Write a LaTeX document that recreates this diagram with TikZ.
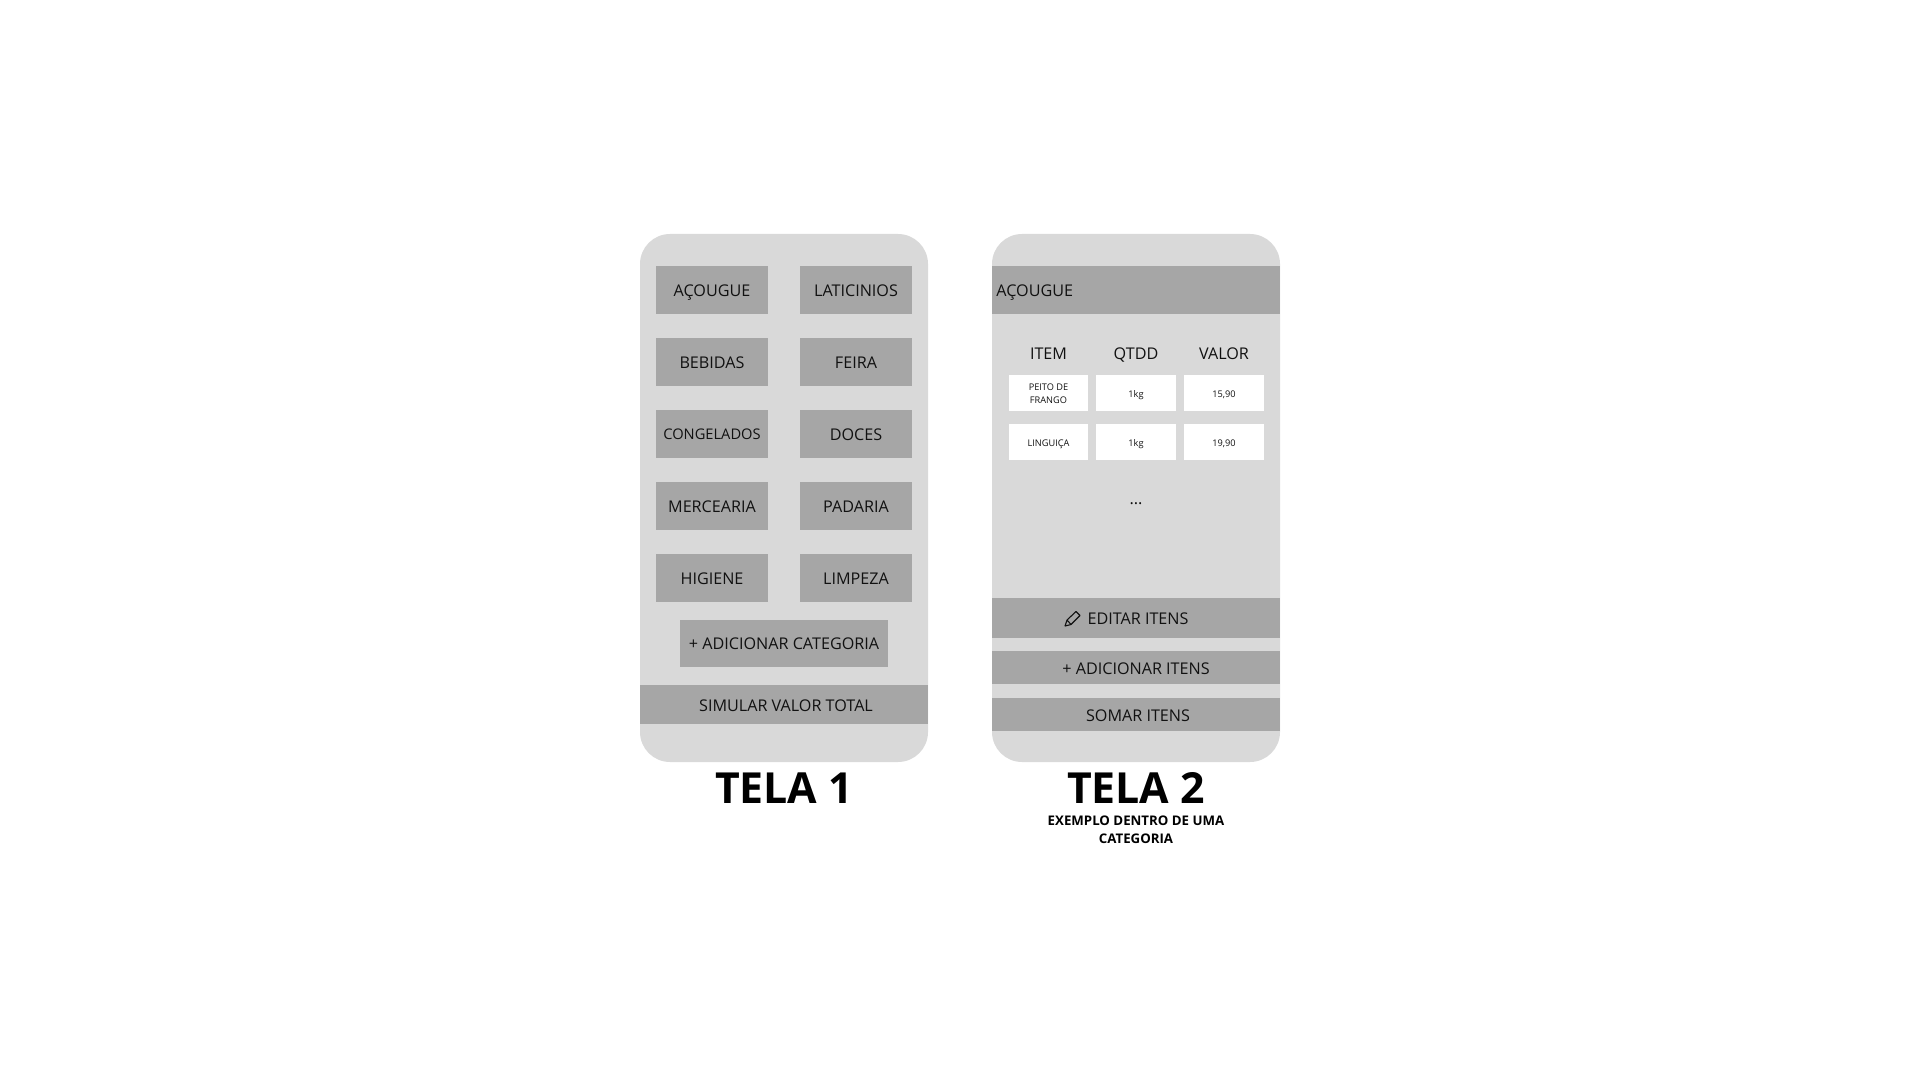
\documentclass[tikz,border=0pt]{standalone}
\usepackage{fontspec}
\setmainfont{Open Sans}
\definecolor{telagray}{HTML}{D9D9D9}
\definecolor{btngray}{HTML}{A6A6A6}
\definecolor{inkgray}{HTML}{111111}
\tikzset{
  tela/.style={fill=telagray,rounded corners=15pt,minimum width=144pt,minimum height=264pt,inner sep=0pt},
  btn/.style={fill=btngray,text=inkgray,inner sep=0pt,minimum width=56pt,minimum height=24pt,font=\fontsize{8.08}{10}\selectfont,text height=6.8pt,text depth=0pt},
  bar/.style={btn,minimum width=144pt},
  head/.style={text=inkgray,inner sep=0pt,font=\fontsize{8.08}{10}\selectfont,text height=6.8pt,text depth=0pt},
  cell/.style={fill=white,text=inkgray,inner sep=0pt,minimum width=40pt,minimum height=18pt,font=\fontsize{4.6}{6.5}\selectfont,text height=4pt,text depth=0pt},
  cellb/.style={text=inkgray,inner sep=0pt,font=\fontsize{4.6}{6.5}\selectfont,align=center},
  titulo/.style={inner sep=0pt,font=\fontsize{21.4}{26}\selectfont\bfseries,text height=15.3pt,text depth=0pt},
}
\begin{document}
\begin{tikzpicture}[x=0.5pt,y=-0.5pt]
  \useasboundingbox (0,0) rectangle (1920,1080);
  % tela 1
  \node[tela] (t1) at (784,498) {};
  \node[btn] (acougue) at (712,290) {AÇOUGUE};
  \node[btn] (laticinios) at (856,290) {LATICINIOS};
  \node[btn] (bebidas) at (712,362) {BEBIDAS};
  \node[btn] (feira) at (856,362) {FEIRA};
  \node[btn,font=\fontsize{7.33}{10}\selectfont,text height=5.2pt] (congelados) at (712,434) {CONGELADOS};
  \node[btn] (doces) at (856,434) {DOCES};
  \node[btn] (mercearia) at (712,506) {MERCEARIA};
  \node[btn] (padaria) at (856,506) {PADARIA};
  \node[btn] (higiene) at (712,578) {HIGIENE};
  \node[btn] (limpeza) at (856,578) {LIMPEZA};
  \node[btn,minimum width=104pt,minimum height=23.5pt,text height=5.8pt] (addcat) at (784,643.5) {+ ADICIONAR CATEGORIA};
  \node[bar,minimum height=19.5pt] (simular) at (784,704.5) {};
  \node[head] (simulartxt) at (786,705) {SIMULAR VALOR TOTAL};
  \node[titulo] (tit1) at (784,788) {TELA 1};
  % tela 2
  \node[tela] (t2) at (1136,498) {};
  \node[bar] (cab) at (1136,290) {};
  \node[head,anchor=west] (cabtxt) at (996,290) {AÇOUGUE};
  \node[head] (item) at (1048.5,352.5) {ITEM};
  \node[head] (qtdd) at (1136,352.5) {QTDD};
  \node[head] (valor) at (1224,352.5) {VALOR};
  \node[cell,minimum width=39.5pt] (c11) at (1048.5,393) {};
  \node[cellb] (c11txt) at (1048.5,394) {PEITO DE\\FRANGO};
  \node[cell] (c12) at (1136,393) {1kg};
  \node[cell] (c13) at (1224,393) {15,90};
  \node[cell,minimum width=39.5pt] (c21) at (1048.5,442) {LINGUIÇA};
  \node[cell] (c22) at (1136,442) {1kg};
  \node[cell] (c23) at (1224,442) {19,90};
  \node[head,text height=1pt] (dots) at (1136,503.5) {...};
  \node[bar,minimum height=20pt] (editar) at (1136,618) {};
  \node[head] (editartxt) at (1138,618) {EDITAR ITENS};
  \draw[inkgray,line width=0.55pt,line join=round] (1065,626) -- (1067,620) -- (1076,611.5) -- (1080,615.5) -- (1071,624.5) -- cycle (1067,620) -- (1071,624.5);
  \node[bar,minimum height=16.5pt] (additens) at (1136,667.5) {};
  \node[head] (additxt) at (1136,668) {+ ADICIONAR ITENS};
  \node[bar,minimum height=16.5pt] (somar) at (1136,714.5) {};
  \node[head] (somartxt) at (1138,715) {SOMAR ITENS};
  \node[titulo] (tit2) at (1136,788) {TELA 2};
  \node[inner sep=0pt,align=center,font=\fontsize{6.63}{9.1}\selectfont\bfseries] (sub) at (1136,830) {EXEMPLO DENTRO DE UMA\\CATEGORIA};
\end{tikzpicture}
\end{document}
